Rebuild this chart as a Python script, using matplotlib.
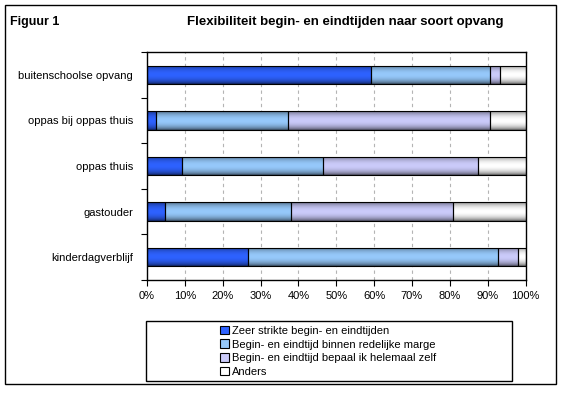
import numpy as np
import matplotlib
matplotlib.use('Agg')
from matplotlib import pyplot as plt
from matplotlib.patches import Rectangle
from matplotlib.colors import to_rgb

plt.rcParams['font.family'] = ['Liberation Sans', 'DejaVu Sans']

categories = ['buitenschoolse opvang', 'oppas bij oppas thuis', 'oppas thuis',
              'gastouder', 'kinderdagverblijf']
series_names = ['Zeer strikte begin- en eindtijden',
                'Begin- en eindtijd binnen redelijke marge',
                'Begin- en eindtijd bepaal ik helemaal zelf',
                'Anders']
zeer_strikt = [59.2, 2.4, 9.2, 4.8, 26.7]
redelijk = [31.4, 34.9, 37.3, 33.3, 66.1]
zelf = [2.7, 53.3, 41.0, 42.8, 5.3]
anders = [6.7, 9.4, 12.5, 19.1, 1.9]
colors = ['#2e62ff', '#96c9fb', '#cbcbfa', '#ffffff']
xticks = [0, 10, 20, 30, 40, 50, 60, 70, 80, 90, 100]

W, H = 566, 397
fig = plt.figure(figsize=(W / 100, H / 100), dpi=100)

# buitenrand
fig.patches.append(Rectangle((5 / W, 1 - 384 / H), 551 / W, 379 / H,
                             transform=fig.transFigure, fill=False,
                             edgecolor='black', linewidth=1))

ax = fig.add_axes([147 / W, 1 - 280 / H, 378.5 / W, 228 / H])


def gradient(col, n=40):
    # excel-achtige verloop: donker aan de randen, licht in het midden
    t = np.linspace(0, 1, n)
    f = 0.45 + 0.55 * np.sin(np.pi * t) ** 0.6
    f = np.where(t > 0.5, 0.35 + 0.65 * np.sin(np.pi * t) ** 0.6, f)
    rgb = np.array(to_rgb(col))
    img = rgb[None, :] * f[:, None]
    return img[:, None, :]


y = np.arange(len(categories))
left = np.zeros(len(categories))
handles = []
for vals, col, name in zip([zeer_strikt, redelijk, zelf, anders], colors, series_names):
    b = ax.barh(y, vals, left=left, height=0.4, color=col,
                edgecolor='black', linewidth=0.8, label=name, zorder=3)
    grad = gradient(col)
    for p in b.patches:
        x0, y0 = p.get_x(), p.get_y()
        im = ax.imshow(grad, extent=(x0, x0 + p.get_width(), y0 + p.get_height(), y0),
                       aspect='auto', interpolation='bilinear', zorder=3.5)
        im.set_clip_path(p)
        p.set_facecolor('none')
        p.set_zorder(4)
    handles.append(Rectangle((0, 0), 1, 1, facecolor=col, edgecolor='black', linewidth=0.8))
    left = left + np.array(vals)

ax.set_xlim(0, 100)
ax.set_ylim(len(categories) - 0.5, -0.5)
ax.set_xticks(xticks)
ax.set_xticklabels([f'{t}%' for t in xticks], fontsize=8)
ax.set_yticks(y)
ax.set_yticklabels(categories, fontsize=8)
ax.set_yticks(np.arange(-0.5, len(categories)), minor=True)
ax.tick_params(axis='y', which='major', length=0, pad=10)
ax.tick_params(axis='y', which='minor', length=4, direction='out', width=0.8)
ax.tick_params(axis='x', length=4, direction='out', width=0.8, pad=4)
for g in xticks[1:-1]:
    ax.axvline(g, color='#b4b4b4', linestyle=(0, (3, 3)), linewidth=0.8, zorder=1)
for s in ax.spines.values():
    s.set_linewidth(1)
    s.set_zorder(5)

fig.text(10 / W, 1 - 22 / H, 'Figuur 1', fontsize=9, fontweight='bold', va='center')
fig.text(345 / W, 1 - 22 / H, 'Flexibiliteit begin- en eindtijden naar soort opvang',
         fontsize=9.5, fontweight='bold', va='center', ha='center')

# legenda
fig.patches.append(Rectangle((146 / W, 1 - 381 / H), 366 / W, 60 / H,
                             transform=fig.transFigure, fill=False,
                             edgecolor='black', linewidth=1))
fig.legend(handles=handles, labels=series_names, loc='upper left',
           bbox_to_anchor=(212 / W, 1 - 318 / H),
           frameon=False, fontsize=8, handlelength=0.8, handleheight=0.8,
           handletextpad=0.3, labelspacing=0.32, borderpad=0.2)

fig.savefig('out.png', dpi=100)
